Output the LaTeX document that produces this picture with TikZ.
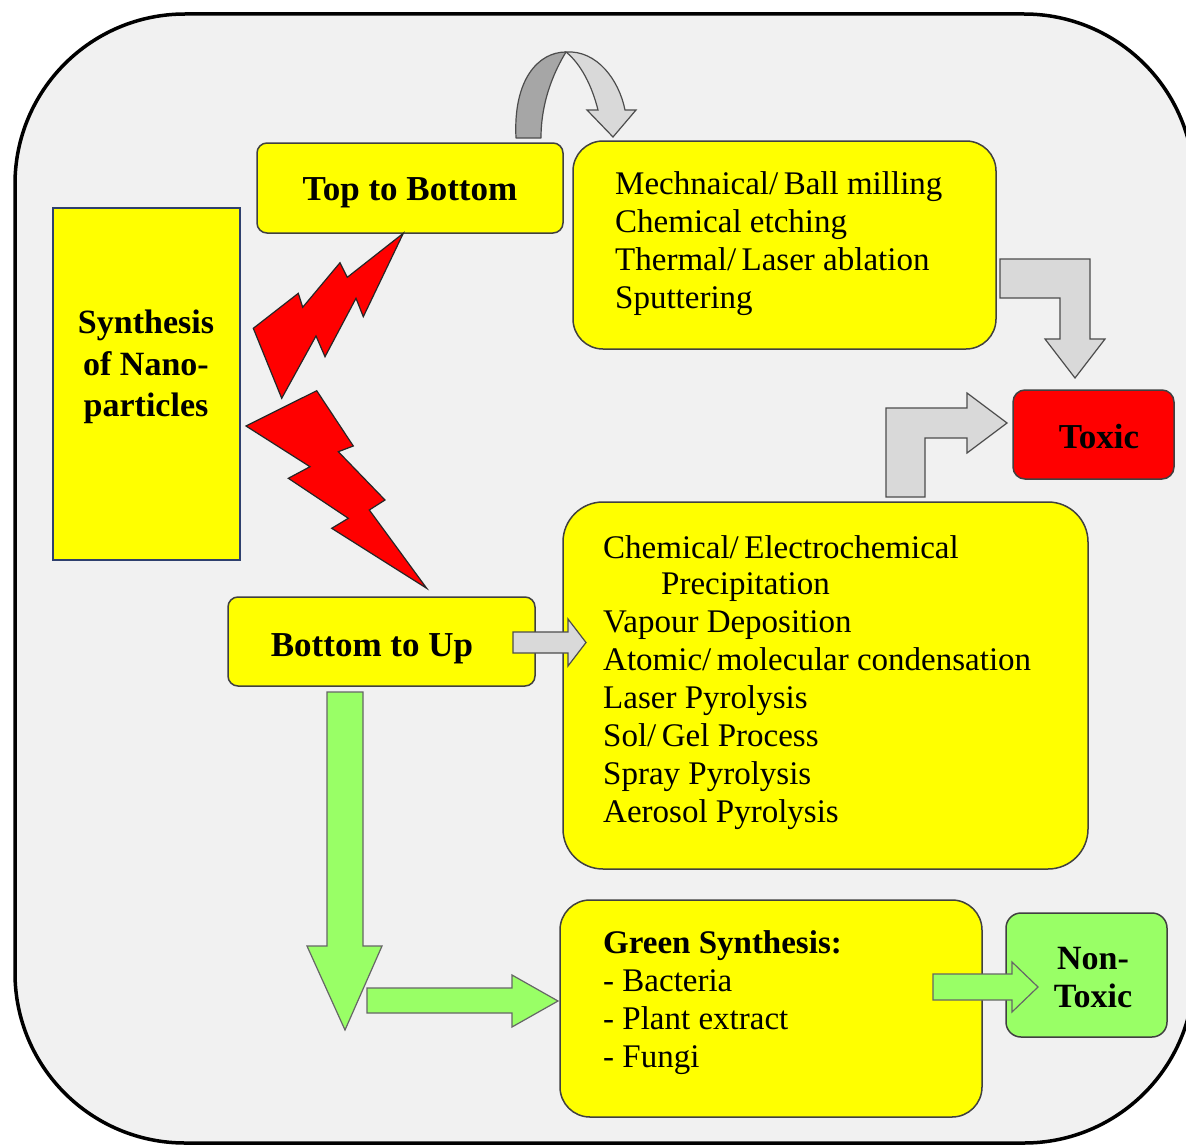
\documentclass[tikz,border=0pt]{standalone}
\usepackage{fontspec}
\setmainfont{Liberation Serif}
\definecolor{bgc}{RGB}{241,241,241}
\definecolor{lgray}{RGB}{217,217,217}
\definecolor{dgray}{RGB}{166,166,166}
\definecolor{ngreen}{RGB}{153,255,102}
\definecolor{yfill}{RGB}{255,255,0}
\definecolor{tred}{RGB}{255,0,0}
\definecolor{synb}{RGB}{47,64,110}
\begin{document}
\begin{tikzpicture}[x=1pt,y=-1pt,
  ybox/.style={draw=black!75, fill=yfill, line width=1.5pt},
  redbox/.style={draw=black!75, fill=tred, line width=1.5pt},
  gbox/.style={draw=black!75, fill=ngreen, line width=1.5pt},
  grayarrow/.style={draw=black!70, fill=lgray, line width=1.2pt, line join=miter},
  darkarrow/.style={draw=black!70, fill=dgray, line width=1.2pt, line join=round},
  greenarrow/.style={draw=black!60, fill=ngreen, line width=1.2pt, line join=miter},
  bolt/.style={draw=black!85, fill=tred, line width=1.2pt, line join=miter},
  boldlbl/.style={font=\fontsize{35}{41}\selectfont\bfseries, align=center, inner sep=0pt},
  body/.style={font=\fontsize{33}{38}\selectfont, align=left, inner sep=0pt, anchor=north west}
]
\useasboundingbox (0,0) rectangle (1186,1148);
\fill[white] (0,0) rectangle (1186,1148);
\begin{scope}
  \clip (0,0) rectangle (1186,1148);
  \draw[line width=3.5pt, fill=bgc, rounded corners=170pt] (15,14) rectangle (1194,1143);
\end{scope}

% boxes
\node[draw=synb, fill=yfill, line width=1.5pt, minimum width=187pt, minimum height=352pt, inner sep=0pt] (syn) at (146.5,384) {};
\node[ybox, rounded corners=10pt, minimum width=306pt, minimum height=90pt] (tb) at (410,188) {};
\node[ybox, rounded corners=30pt, minimum width=423pt, minimum height=208pt] (mech) at (784.5,245) {};
\node[redbox, rounded corners=12pt, minimum width=161pt, minimum height=89pt] (toxic) at (1093.5,434.5) {};
\node[ybox, rounded corners=10pt, minimum width=307pt, minimum height=89pt] (bu) at (381.5,641.5) {};
\node[ybox, rounded corners=40pt, minimum width=525pt, minimum height=367pt] (chem) at (825.5,685.5) {};
\node[ybox, rounded corners=30pt, minimum width=422pt, minimum height=217pt] (green) at (771,1008.5) {};
\node[gbox, rounded corners=15pt, minimum width=161pt, minimum height=124pt] (nontox) at (1086.5,975) {};

% lightning bolts
\draw[bolt] (403.3,233.3) -- (363.3,316.7) -- (356,298.3) -- (325,356.7) -- (316,336)
  -- (281.7,398.3) -- (253.3,328.3) -- (298.3,293.3) -- (302.7,307.3) -- (340,262.7)
  -- (347.3,277.3) -- cycle;
\draw[bolt] (316.7,390.7) -- (353.3,446) -- (338.3,451.7) -- (385,500) -- (369.3,510)
  -- (426.7,588.3) -- (331.7,528.3) -- (348.3,518.3) -- (288.3,478.3) -- (310,466.7)
  -- (246,426) -- cycle;

% curved arrow over Top to Bottom
\draw[darkarrow] (516,138) .. controls (513,80) and (538,52) .. (566,52)
  .. controls (555,70) and (541,100) .. (541,138) -- cycle;
\draw[grayarrow] (566,52) .. controls (597,50) and (619,80) .. (625,110)
  -- (636,110) -- (613,137) -- (587,110) -- (598,110)
  .. controls (592,86) and (581,64) .. (566,52) -- cycle;

% elbow arrows to Toxic
\draw[grayarrow] (1000,259) -- (1090,259) -- (1090,339) -- (1105,339) -- (1075,378)
  -- (1045,339) -- (1060,339) -- (1060,298) -- (1000,298) -- cycle;
\draw[grayarrow] (886,497) -- (886,408) -- (967,408) -- (967,393) -- (1007,423)
  -- (967,453) -- (967,438) -- (925,438) -- (925,497) -- cycle;

% Bottom to Up -> methods
\draw[grayarrow] (513,632) -- (568,632) -- (568,619) -- (586,642.5) -- (568,666)
  -- (568,653) -- (513,653) -- cycle;

% green arrows
\draw[greenarrow] (327,692) -- (363,692) -- (363,946) -- (382,946) -- (345,1030)
  -- (307,946) -- (327,946) -- cycle;
\draw[greenarrow] (367,988) -- (512,988) -- (512,975) -- (558,1001) -- (512,1027)
  -- (512,1013) -- (367,1013) -- cycle;
\draw[greenarrow] (933,974) -- (1012,974) -- (1012,962) -- (1038,987) -- (1012,1012)
  -- (1012,1000) -- (933,1000) -- cycle;

% texts
\node[boldlbl, font=\fontsize{34}{41.5}\selectfont\bfseries] (synt) at (146,367) {Synthesis\\of Nano-\\particles};
\node[boldlbl] (tbt) at (410,193) {Top to Bottom};
\node[boldlbl] (but) at (372,649) {Bottom to Up};
\node[boldlbl] (toxt) at (1099,437) {Toxic};
\node[boldlbl, font=\fontsize{34}{38}\selectfont\bfseries] (ntt) at (1093,978) {Non-\\Toxic};

\node[body] (mecht) at (615,171) {Mechnaical/\,Ball milling\\Chemical etching\\Thermal/\,Laser ablation\\Sputtering};
\node[body] (chemt) at (603,535) {Chemical/\,Electrochemical\\[-2pt]\hspace*{58pt}Precipitation\\Vapour Deposition\\Atomic/\,molecular condensation\\Laser Pyrolysis\\Sol/\,Gel Process\\Spray Pyrolysis\\Aerosol Pyrolysis};
\node[body] (greent) at (603,930) {\textbf{Green Synthesis:}\\- Bacteria\\- Plant extract\\- Fungi};
\end{tikzpicture}
\end{document}
